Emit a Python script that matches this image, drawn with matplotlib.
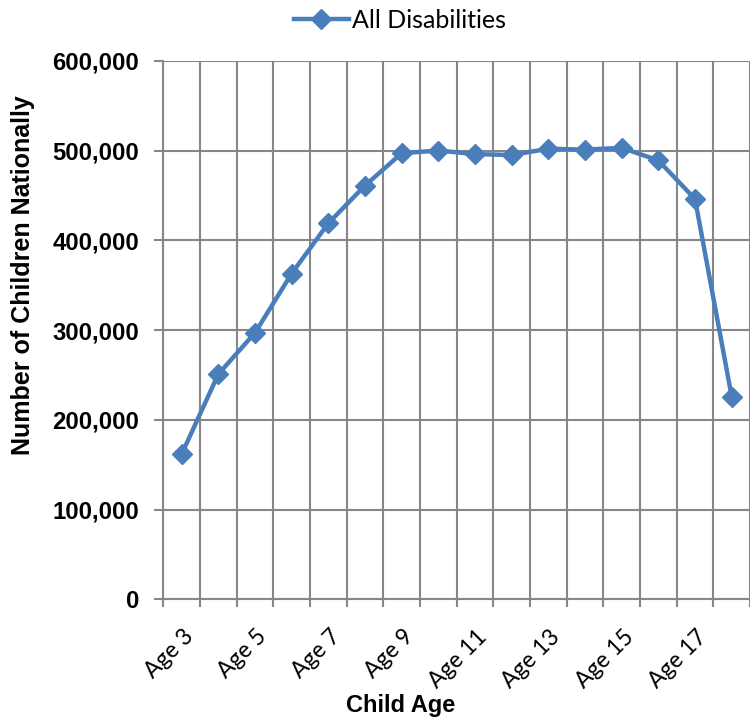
import matplotlib
matplotlib.use("Agg")
import matplotlib.pyplot as plt
from matplotlib.ticker import FuncFormatter, FixedLocator, NullFormatter
from matplotlib.transforms import ScaledTranslation
import numpy as np

plt.rcParams['font.family'] = ['Lato', 'DejaVu Sans']
BOLD = ['Liberation Sans', 'DejaVu Sans']

ages = ["Age 3", "Age 4", "Age 5", "Age 6", "Age 7", "Age 8", "Age 9", "Age 10",
        "Age 11", "Age 12", "Age 13", "Age 14", "Age 15", "Age 16", "Age 17", "Age 18"]
all_disabilities = [162000, 251000, 297000, 363000, 419000, 461000, 497000, 500000,
                    496000, 495000, 502000, 501000, 503000, 489000, 446000, 226000]
series_name = "All Disabilities"

line_color = "#4A7EBB"
grid_color = "#878787"

fig = plt.figure(figsize=(7.5, 7.17), dpi=100)
ax = fig.add_axes([0.2178, 0.1639, 0.7822, 0.7514])

x = np.arange(len(ages))
ax.plot(x, all_disabilities, color=line_color, lw=3.2, marker='D', markersize=10,
        markeredgecolor=line_color, markerfacecolor=line_color, label=series_name,
        solid_joinstyle='round', zorder=3, clip_on=False)

ax.set_xlim(-0.5, len(ages) - 0.5)
ax.set_ylim(0, 600000)

# category boundaries carry the gridlines and tick marks
bounds = np.arange(len(ages) + 1) - 0.5
ax.xaxis.set_major_locator(FixedLocator(bounds))
ax.xaxis.set_major_formatter(NullFormatter())
ax.xaxis.set_minor_locator(FixedLocator(x[::2]))
ax.set_xticklabels([ages[i] for i in x[::2]], minor=True)
ax.tick_params(axis='x', which='major', direction='out', length=6, width=1.5, color=grid_color)
ax.tick_params(axis='x', which='minor', length=0, pad=19, labelsize=16.5)
shift = ScaledTranslation(1 / 100, 0, fig.dpi_scale_trans)
for lbl in ax.get_xticklabels(minor=True):
    lbl.set_rotation(45)
    lbl.set_ha('right')
    lbl.set_va('top')
    lbl.set_rotation_mode('anchor')
    lbl.set_transform(lbl.get_transform() + shift)

ax.set_yticks(np.arange(0, 600001, 100000))
ax.yaxis.set_major_formatter(FuncFormatter(lambda v, p: f"{int(v):,}"))
ax.tick_params(axis='y', direction='out', length=6.5, width=1.5, color=grid_color, pad=11)
for lbl in ax.get_yticklabels():
    lbl.set_family(BOLD)
    lbl.set_fontweight('bold')
    lbl.set_fontsize(17.2)

ax.grid(True, which='major', color=grid_color, lw=1.5, zorder=0)
ax.set_axisbelow(True)
for side in ['top', 'right']:
    ax.spines[side].set_visible(False)
for side in ['left', 'bottom']:
    ax.spines[side].set_color(grid_color)
    ax.spines[side].set_linewidth(1.5)

ax.set_xlabel("Child Age", fontsize=17, fontweight='bold', family=BOLD)
ax.xaxis.set_label_coords(0.405, -0.196)
ax.xaxis.label.set_va('center')
ax.set_ylabel("Number of Children Nationally", fontsize=18, fontweight='bold', family=BOLD)
ax.yaxis.set_label_coords(-0.239, 0.602)
ax.yaxis.label.set_va('center')

fig.legend(handles=ax.get_lines(), loc='center', bbox_to_anchor=(400 / 750, 1 - 20 / 717),
           frameon=False, fontsize=18, handlelength=2.2, handletextpad=0.16,
           borderaxespad=0, borderpad=0)

fig.savefig("out.png", dpi=100)
